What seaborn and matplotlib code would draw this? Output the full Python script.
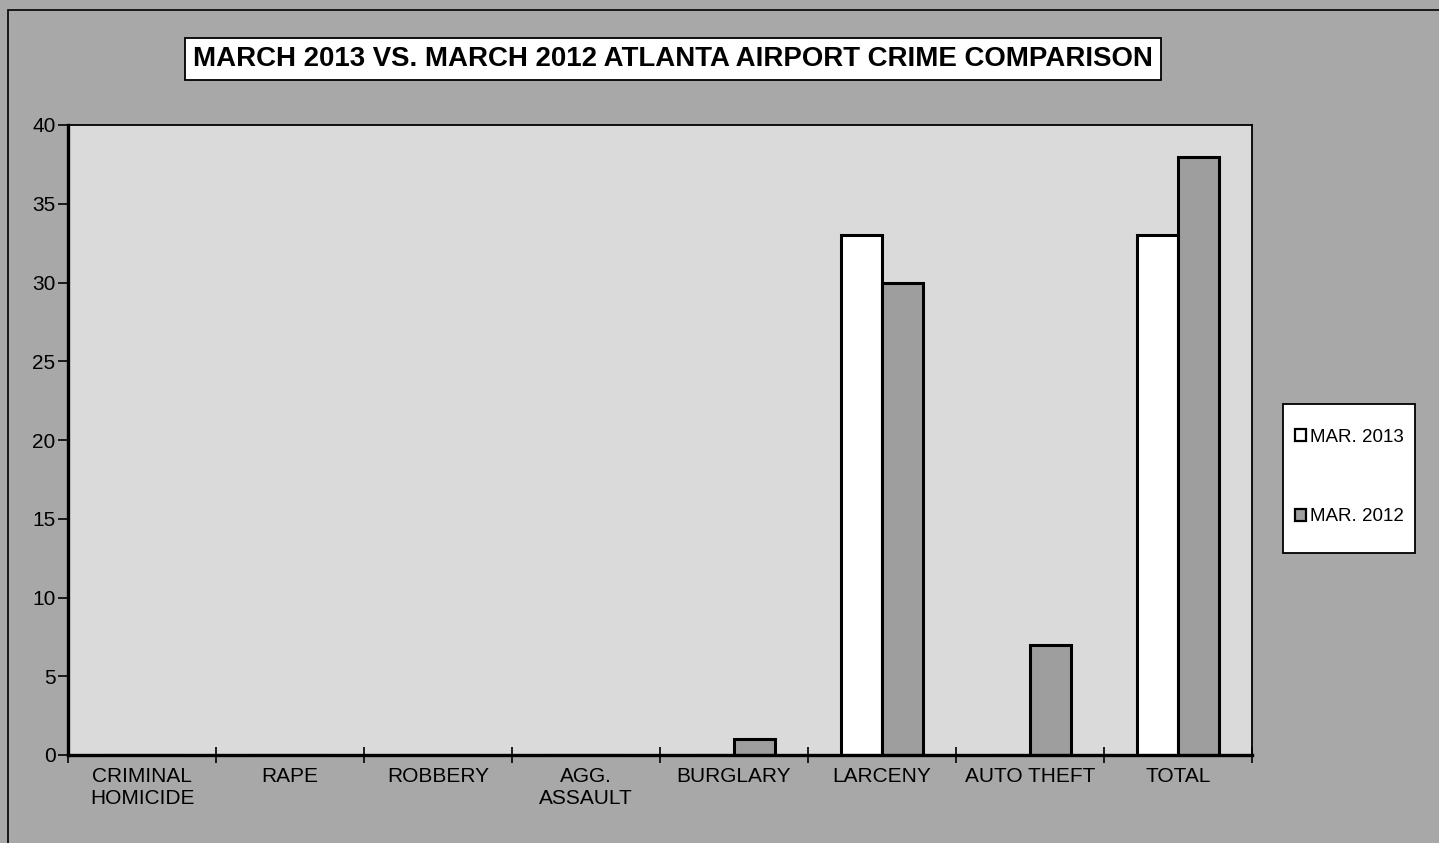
import matplotlib
matplotlib.use('Agg')
import matplotlib.pyplot as plt
import matplotlib.ticker as plticker
import pandas as pd
import seaborn as sns
from matplotlib.patches import Rectangle

TITLE = 'MARCH 2013 VS. MARCH 2012 ATLANTA AIRPORT CRIME COMPARISON'
CRIMES = ['CRIMINAL\nHOMICIDE', 'RAPE', 'ROBBERY', 'AGG.\nASSAULT',
          'BURGLARY', 'LARCENY', 'AUTO THEFT', 'TOTAL']
MAR_2013 = [0, 0, 0, 0, 0, 33, 0, 33]
MAR_2012 = [0, 0, 0, 0, 1, 30, 7, 38]
SERIES = ['MAR. 2013', 'MAR. 2012']
Y_TICKS = [0, 5, 10, 15, 20, 25, 30, 35, 40]

OUTER_GREY = '#a8a8a8'
PLOT_GREY = '#dadada'
BAR_GREY = '#9e9e9e'
W, H = 1439, 843


def main():
    df = pd.DataFrame({
        'crime': CRIMES * 2,
        'count': MAR_2013 + MAR_2012,
        'period': [SERIES[0]] * len(CRIMES) + [SERIES[1]] * len(CRIMES),
    })

    sns.set_theme(style='white')
    plt.rcParams['font.family'] = ['Liberation Sans', 'DejaVu Sans']
    plt.rcParams['text.color'] = 'black'
    plt.rcParams['xtick.color'] = 'black'
    plt.rcParams['ytick.color'] = 'black'

    fig = plt.figure(figsize=(W / 100, H / 100), dpi=100)
    fig.patch.set_facecolor(OUTER_GREY)
    # outer chart frame
    fig.patches.append(Rectangle((8 / W, -0.01), 1, 1 - 10 / H + 0.01,
                                 transform=fig.transFigure, fill=False,
                                 edgecolor='black', linewidth=1.2))

    ax = fig.add_axes([68 / W, 88 / H, (1252 - 68) / W, (755 - 125) / H])
    ax.set_facecolor(PLOT_GREY)

    sns.barplot(data=df, x='crime', y='count', hue='period', ax=ax,
                palette=['white', BAR_GREY], edgecolor='black', linewidth=2.2,
                width=0.56, saturation=1)

    ax.set_xlim(-0.5, len(CRIMES) - 0.5)
    ax.set_ylim(0, 40)
    ax.set_yticks(Y_TICKS)
    ax.set_xlabel('')
    ax.set_ylabel('')

    for side in ['left', 'bottom']:
        ax.spines[side].set_linewidth(2.4)
        ax.spines[side].set_color('black')
    for side in ['top', 'right']:
        ax.spines[side].set_linewidth(1.3)
        ax.spines[side].set_color('black')

    ax.tick_params(axis='y', which='major', direction='out', length=7, width=1.2,
                   color='black', labelcolor='black', pad=2, labelsize=15, left=True)
    ax.tick_params(axis='x', which='major', length=0, pad=9, labelsize=15,
                   labelcolor='black')
    ax.xaxis.set_minor_locator(plticker.FixedLocator([i - 0.5 for i in range(len(CRIMES) + 1)]))
    ax.tick_params(axis='x', which='minor', direction='inout', length=12, width=1.2,
                   color='black', bottom=True)

    # legend box drawn on its own, entries placed inside it
    handles, labels = ax.get_legend_handles_labels()
    ax.get_legend().remove()
    fig.patches.append(Rectangle((1283 / W, 1 - 553 / H), 132 / W, 149 / H,
                                 transform=fig.transFigure, facecolor='white',
                                 edgecolor='black', linewidth=1.3, zorder=3))
    leg = fig.legend(handles, labels, loc='center', bbox_to_anchor=(1349 / W, 1 - 477 / H),
                     bbox_transform=fig.transFigure, frameon=False,
                     fontsize=13.5, handlelength=0.6, handleheight=0.6,
                     handletextpad=0.2, labelspacing=3.35, borderpad=0,
                     borderaxespad=0)
    leg.set_zorder(6)
    for h in leg.legend_handles:
        h.set_linewidth(1.6)

    fig.text(673 / W, 1 - 59 / H, TITLE, ha='center', va='center',
             fontsize=19.9, fontweight='bold',
             bbox=dict(boxstyle='square,pad=0.3', facecolor='white',
                       edgecolor='black', linewidth=1.3))

    fig.savefig('out.png', dpi=100, facecolor=fig.get_facecolor())


if __name__ == '__main__':
    main()
